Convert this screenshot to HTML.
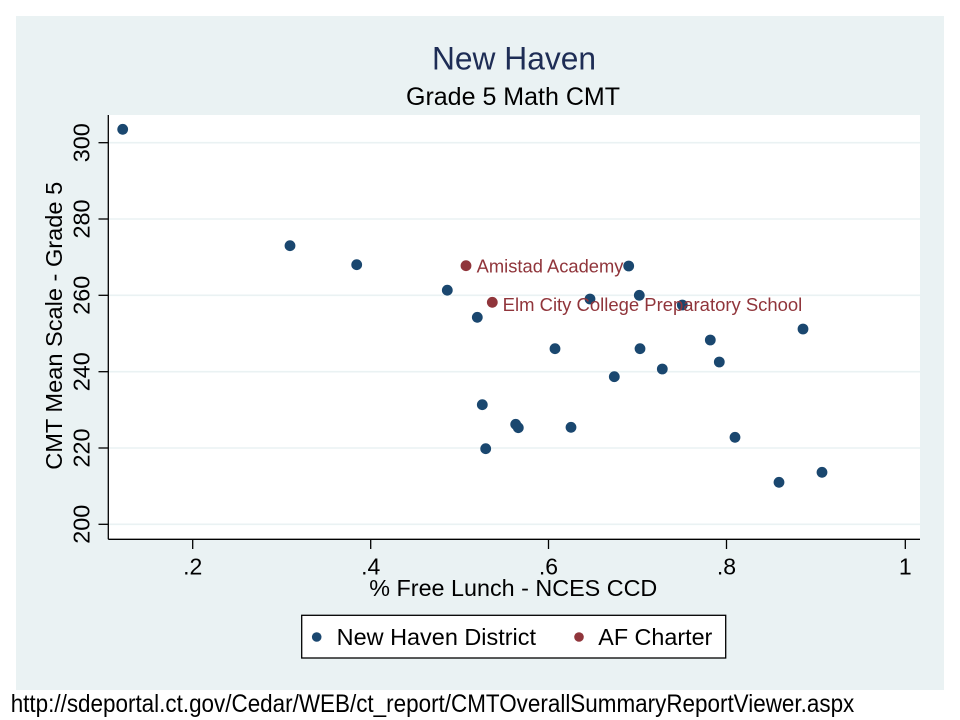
<!DOCTYPE html>
<html>
<head>
<meta charset="utf-8">
<style>
html,body{margin:0;padding:0;background:#fff;}
svg{display:block;}
text{font-family:"Liberation Sans",Arial,sans-serif;}
</style>
</head>
<body>
<svg width="960" height="720" viewBox="0 0 960 720" xmlns="http://www.w3.org/2000/svg">
  <rect x="0" y="0" width="960" height="720" fill="#ffffff"/>
  <rect x="16" y="16" width="928" height="674" fill="#eaf2f3"/>
  <!-- plot region -->
  <rect x="108" y="115" width="812" height="424" fill="#ffffff"/>
  <!-- grid lines -->
  <g stroke="#eaf2f3" stroke-width="1.6">
    <line x1="108" y1="142.7" x2="920" y2="142.7"/>
    <line x1="108" y1="219" x2="920" y2="219"/>
    <line x1="108" y1="295.3" x2="920" y2="295.3"/>
    <line x1="108" y1="371.7" x2="920" y2="371.7"/>
    <line x1="108" y1="448" x2="920" y2="448"/>
    <line x1="108" y1="524.3" x2="920" y2="524.3"/>
  </g>
  <!-- axes -->
  <g stroke="#000" stroke-width="1.3">
    <line x1="108.3" y1="115" x2="108.3" y2="539.3"/>
    <line x1="108.3" y1="539.3" x2="920" y2="539.3"/>
    <!-- y ticks -->
    <line x1="98.5" y1="142.7" x2="108.3" y2="142.7"/>
    <line x1="98.5" y1="219" x2="108.3" y2="219"/>
    <line x1="98.5" y1="295.3" x2="108.3" y2="295.3"/>
    <line x1="98.5" y1="371.7" x2="108.3" y2="371.7"/>
    <line x1="98.5" y1="448" x2="108.3" y2="448"/>
    <line x1="98.5" y1="524.3" x2="108.3" y2="524.3"/>
    <!-- x ticks -->
    <line x1="192.7" y1="539.3" x2="192.7" y2="549"/>
    <line x1="370.7" y1="539.3" x2="370.7" y2="549"/>
    <line x1="548.5" y1="539.3" x2="548.5" y2="549"/>
    <line x1="726.5" y1="539.3" x2="726.5" y2="549"/>
    <line x1="905.3" y1="539.3" x2="905.3" y2="549"/>
  </g>
  <!-- y tick labels -->
  <g font-size="23" fill="#000" text-anchor="middle">
    <text transform="translate(89.3,142.7) rotate(-90)" textLength="39" lengthAdjust="spacingAndGlyphs">300</text>
    <text transform="translate(89.3,219) rotate(-90)" textLength="39" lengthAdjust="spacingAndGlyphs">280</text>
    <text transform="translate(89.3,295.3) rotate(-90)" textLength="39" lengthAdjust="spacingAndGlyphs">260</text>
    <text transform="translate(89.3,371.7) rotate(-90)" textLength="39" lengthAdjust="spacingAndGlyphs">240</text>
    <text transform="translate(89.3,448) rotate(-90)" textLength="39" lengthAdjust="spacingAndGlyphs">220</text>
    <text transform="translate(89.3,524.3) rotate(-90)" textLength="39" lengthAdjust="spacingAndGlyphs">200</text>
  </g>
  <!-- y axis title -->
  <text transform="translate(62,325.8) rotate(-90)" font-size="23.3" text-anchor="middle" fill="#000" textLength="288" lengthAdjust="spacingAndGlyphs">CMT Mean Scale - Grade 5</text>
  <!-- x tick labels -->
  <g font-size="23" fill="#000" text-anchor="middle">
    <text x="192.7" y="574.3">.2</text>
    <text x="370.7" y="574.3">.4</text>
    <text x="548.5" y="574.3">.6</text>
    <text x="726.5" y="574.3">.8</text>
    <text x="905.3" y="574.3">1</text>
  </g>
  <!-- x axis title -->
  <text x="513.3" y="596" font-size="23.3" text-anchor="middle" fill="#000" textLength="288" lengthAdjust="spacingAndGlyphs">% Free Lunch - NCES CCD</text>
  <!-- titles -->
  <text x="514" y="69.3" font-size="32" text-anchor="middle" fill="#1e2d55" textLength="164" lengthAdjust="spacingAndGlyphs">New Haven</text>
  <text x="513" y="105" font-size="25" text-anchor="middle" fill="#000" textLength="214" lengthAdjust="spacingAndGlyphs">Grade 5 Math CMT</text>
  <!-- blue points -->
  <g fill="#1a476f">
    <circle cx="122.7" cy="129.3" r="5.4"/>
    <circle cx="290" cy="245.7" r="5.4"/>
    <circle cx="356.7" cy="264.7" r="5.4"/>
    <circle cx="447.3" cy="290.2" r="5.4"/>
    <circle cx="477.3" cy="317.3" r="5.4"/>
    <circle cx="628.7" cy="266" r="5.4"/>
    <circle cx="639.3" cy="295.3" r="5.4"/>
    <circle cx="590" cy="299" r="5.4"/>
    <circle cx="682.3" cy="305" r="5.4"/>
    <circle cx="555" cy="348.7" r="5.4"/>
    <circle cx="640" cy="348.7" r="5.4"/>
    <circle cx="710.3" cy="340" r="5.4"/>
    <circle cx="719.3" cy="362" r="5.4"/>
    <circle cx="662.3" cy="369" r="5.4"/>
    <circle cx="614.3" cy="376.7" r="5.4"/>
    <circle cx="803" cy="329" r="5.4"/>
    <circle cx="482.3" cy="404.7" r="5.4"/>
    <circle cx="515.7" cy="424.3" r="5.4"/>
    <circle cx="518.3" cy="427.7" r="5.4"/>
    <circle cx="571" cy="427.3" r="5.4"/>
    <circle cx="485.7" cy="448.7" r="5.4"/>
    <circle cx="735" cy="437.3" r="5.4"/>
    <circle cx="779" cy="482.3" r="5.4"/>
    <circle cx="822" cy="472.3" r="5.4"/>
  </g>
  <!-- red points -->
  <g fill="#90353b">
    <circle cx="466" cy="265.7" r="5.4"/>
    <circle cx="492.3" cy="302.3" r="5.4"/>
  </g>
  <!-- labels -->
  <g font-size="18.3" fill="#90353b">
    <text x="476.7" y="272.5" textLength="146.7" lengthAdjust="spacingAndGlyphs">Amistad Academy</text>
    <text x="502.7" y="311" textLength="299.6" lengthAdjust="spacingAndGlyphs">Elm City College Preparatory School</text>
  </g>
  <!-- legend -->
  <rect x="301.7" y="615.3" width="424" height="42.7" fill="#ffffff" stroke="#000" stroke-width="1.3"/>
  <circle cx="316.7" cy="637" r="4.8" fill="#1a476f"/>
  <text x="336.7" y="645" font-size="23.4" fill="#000" textLength="199.3" lengthAdjust="spacingAndGlyphs">New Haven District</text>
  <circle cx="579" cy="637" r="4.8" fill="#90353b"/>
  <text x="598.3" y="645" font-size="23.4" fill="#000" textLength="114" lengthAdjust="spacingAndGlyphs">AF Charter</text>
  <!-- url -->
  <text x="10.7" y="712" font-size="25" fill="#000" textLength="843.6" lengthAdjust="spacingAndGlyphs">http://sdeportal.ct.gov/Cedar/WEB/ct_report/CMTOverallSummaryReportViewer.aspx</text>
</svg>
</body>
</html>
